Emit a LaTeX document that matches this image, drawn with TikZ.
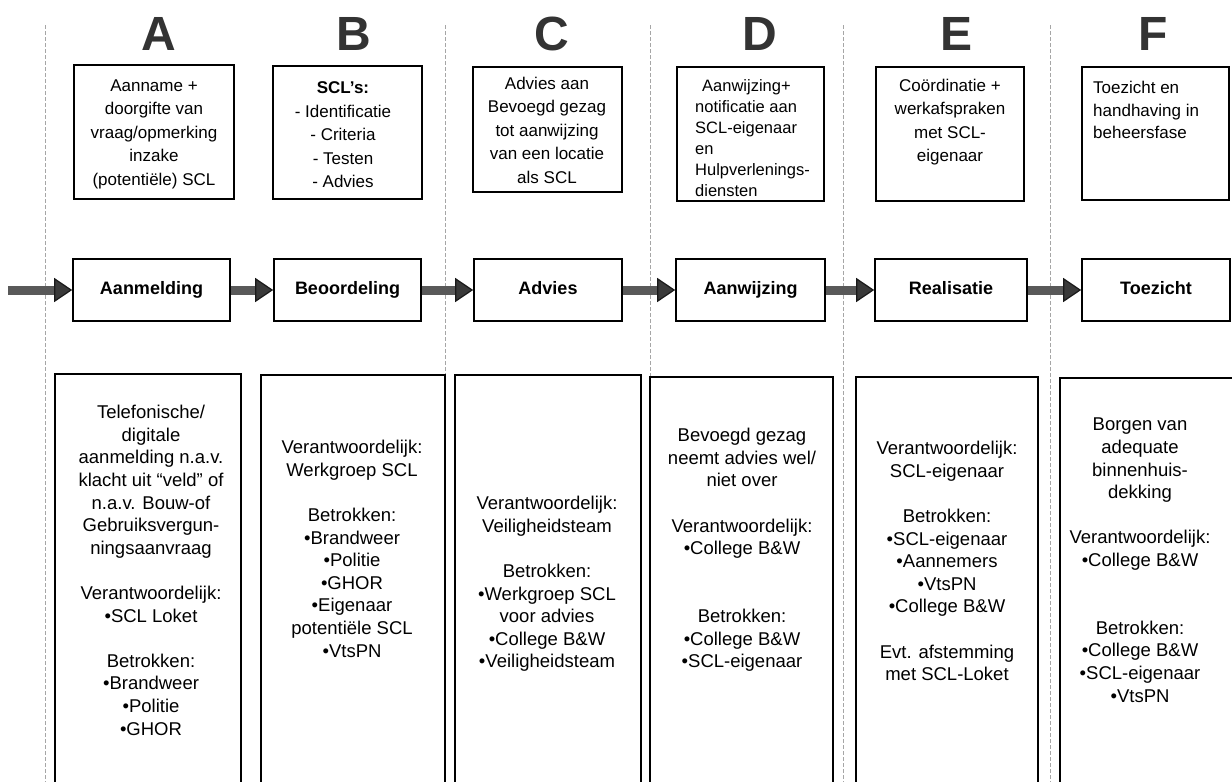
\documentclass[tikz,border=0pt]{standalone}
\usepackage{fontspec}
\setmainfont{Liberation Sans}
\usetikzlibrary{arrows.meta}

\begin{document}
\begin{tikzpicture}[x=1pt,y=-1pt,
    kader/.style={line width=1.4pt},
    fase/.style={draw, line width=1.6pt, minimum height=62pt, inner sep=0pt,
      text height=13pt, text depth=4pt,
      font=\fontsize{18}{22}\selectfont\bfseries},
    pijl/.style={line width=9pt, gray!70!black,
      -{Triangle[length=18pt,width=24pt,line width=1.2pt,fill=gray!45!black,color=black!90]}},
    scheiding/.style={gray!70, line width=0.8pt, dash pattern=on 4pt off 2pt},
    kop/.style={font=\fontsize{48}{48}\selectfont\bfseries, text=black!80,
      inner sep=0pt, anchor=base},
    boven/.style={font=\fontsize{17}{23.5}\selectfont, align=center, inner sep=0pt},
    onder/.style={font=\fontsize{18.5}{22.6}\selectfont, align=center, inner sep=0pt,
      anchor=north}]
  \useasboundingbox (0,0) rectangle (1232,782);

  %% separators
  \draw[scheiding] (45,25) -- (45,782);
  \draw[scheiding] (445,25) -- (445,782);
  \draw[scheiding] (650,25) -- (650,782);
  \draw[scheiding] (843,25) -- (843,782);
  \draw[scheiding] (1050,25) -- (1050,782);

  %% letters
  \node[kop] (kopA) at (159,50) {A};
  \node[kop] (kopB) at (354,50) {B};
  \node[kop] (kopC) at (552,50) {C};
  \node[kop] (kopD) at (760,50) {D};
  \node[kop] (kopE) at (956,50) {E};
  \node[kop] (kopF) at (1153,50) {F};

  %% top boxes
  \draw[kader] (74,65) rectangle (234,199);
  \draw[kader] (273,66) rectangle (422,199);
  \draw[kader] (473,67) rectangle (622,192);
  \draw[kader] (677,67) rectangle (824,201);
  \draw[kader] (876,67) rectangle (1024,201);
  \draw[kader] (1082,67) rectangle (1229,200);

  \node[boven] (taakA) at (154,134) {Aanname +\\doorgifte van\\vraag/opmerking\\inzake\\(potentiële) SCL};
  \node[boven] (taakB) at (343,135) {\textbf{SCL's:}\\- Identificatie\\- Criteria\\- Testen\\- Advies};
  \node[boven] (taakC) at (547,130) {Advies aan\\Bevoegd gezag\\tot aanwijzing\\van een locatie\\als SCL};
  \node[boven, align=left, anchor=north west, font=\fontsize{16.5}{21}\selectfont]
    (taakD) at (695,79) {\hspace*{7pt}Aanwijzing+\\notificatie aan\\SCL-eigenaar\\en\\Hulpverlenings-\\diensten};
  \node[boven] (taakE) at (950,122) {Coördinatie +\\werkafspraken\\met SCL-\\eigenaar};
  \node[boven, align=left, anchor=north west, font=\fontsize{17}{22.5}\selectfont]
    (taakF) at (1093,81) {Toezicht en\\handhaving in\\beheersfase};

  %% process
  \node[fase, minimum width=157pt] (aanmelding) at (151.5,290) {Aanmelding};
  \node[fase, minimum width=147pt] (beoordeling) at (347.5,290) {Beoordeling};
  \node[fase, minimum width=148pt] (advies) at (548,290) {Advies};
  \node[fase, minimum width=149pt] (aanwijzing) at (750.5,290) {Aanwijzing};
  \node[fase, minimum width=152pt] (realisatie) at (951,290) {Realisatie};
  \node[fase, minimum width=148pt] (toezicht) at (1156,290) {Toezicht};

  \coordinate (ingang) at (8,290);
  \draw[pijl] (ingang) -- (aanmelding);
  \draw[pijl] (aanmelding) -- (beoordeling);
  \draw[pijl] (beoordeling) -- (advies);
  \draw[pijl] (advies) -- (aanwijzing);
  \draw[pijl] (aanwijzing) -- (realisatie);
  \draw[pijl] (realisatie) -- (toezicht);

  %% bottom boxes
  \draw[kader] (55,782) |- (241,374) -- (241,782);
  \draw[kader] (261,782) |- (445,375) -- (445,782);
  \draw[kader] (455,782) |- (641,375) -- (641,782);
  \draw[kader] (650,782) |- (833,377) -- (833,782);
  \draw[kader] (856,782) |- (1038,377) -- (1038,782);
  \draw[kader] (1060,782) |- (1232,378);

  \node[onder] (rolA) at (151,405) {Telefonische/\\digitale\\aanmelding n.a.v.\\klacht uit “veld” of\\n.a.v. Bouw-of\\Gebruiksvergun-\\ningsaanvraag\\[22.6pt]
    Verantwoordelijk:\\•SCL Loket\\[22.6pt]Betrokken:\\•Brandweer\\•Politie\\•GHOR};
  \node[onder] (rolB) at (352,440) {Verantwoordelijk:\\Werkgroep SCL\\[22.6pt]Betrokken:\\•Brandweer\\•Politie\\•GHOR\\•Eigenaar\\potentiële SCL\\•VtsPN};
  \node[onder] (rolC) at (547,496) {Verantwoordelijk:\\Veiligheidsteam\\[22.6pt]Betrokken:\\•Werkgroep SCL\\voor advies\\•College B\&W\\•Veiligheidsteam};
  \node[onder] (rolD) at (742,428) {Bevoegd gezag\\neemt advies wel/\\niet over\\[22.6pt]Verantwoordelijk:\\•College B\&W\\[45.2pt]Betrokken:\\•College B\&W\\•SCL-eigenaar};
  \node[onder] (rolE) at (947,441) {Verantwoordelijk:\\SCL-eigenaar\\[22.6pt]Betrokken:\\•SCL-eigenaar\\•Aannemers\\•VtsPN\\•College B\&W\\[22.6pt]Evt. afstemming\\met SCL-Loket};
  \node[onder] (rolF) at (1140,418) {Borgen van\\adequate\\binnenhuis-\\dekking\\[22.6pt]Verantwoordelijk:\\•College B\&W\\[45.2pt]Betrokken:\\•College B\&W\\•SCL-eigenaar\\•VtsPN};

\end{tikzpicture}
\end{document}
